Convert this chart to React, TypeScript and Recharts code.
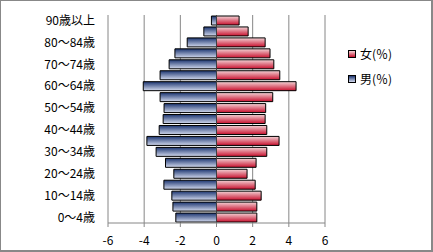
import {
  BarChart,
  Bar,
  XAxis,
  YAxis,
  CartesianGrid,
  ReferenceLine,
} from "recharts";

const ageGroups = [
  "0～4歳", "5～9歳", "10～14歳", "15～19歳", "20～24歳", "25～29歳",
  "30～34歳", "35～39歳", "40～44歳", "45～49歳", "50～54歳", "55～59歳",
  "60～64歳", "65～69歳", "70～74歳", "75～79歳", "80～84歳", "85～89歳",
  "90歳以上",
];

const male = [
  2.25, 2.41, 2.47, 2.91, 2.36, 2.82, 3.34, 3.85, 3.17, 2.95, 2.9, 3.12,
  4.05, 3.12, 2.62, 2.3, 1.62, 0.7, 0.28,
];

const female = [
  2.23, 2.23, 2.47, 2.14, 1.69, 2.19, 2.78, 3.46, 2.78, 2.69, 2.72, 3.11,
  4.4, 3.5, 3.17, 2.96, 2.69, 1.75, 1.25,
];

const xTicks = [-6, -4, -2, 0, 2, 4, 6];

const data = ageGroups.map((age, i) => ({
  age,
  male: -male[i],
  female: female[i],
}));

const font = "'Noto Sans CJK JP', 'Noto Sans', sans-serif";

function LegendBox() {
  const items = [
    { label: "女(％)", from: "#f3d3d6", to: "#c8102e" },
    { label: "男(％)", from: "#1c3570", to: "#d3daee" },
  ];
  return (
    <div
      style={{
        position: "absolute",
        left: 347,
        top: 40,
        fontFamily: font,
        fontSize: 12,
        color: "#000",
      }}
    >
      {items.map((it) => (
        <div
          key={it.label}
          style={{ display: "flex", alignItems: "center", height: 25 }}
        >
          <span
            style={{
              width: 6,
              height: 6,
              marginRight: 4,
              border: "1px solid #000",
              background: `linear-gradient(${it.from}, ${it.to})`,
            }}
          />
          {it.label}
        </div>
      ))}
    </div>
  );
}

export default function App() {
  return (
    <div
      style={{
        position: "fixed",
        left: 0,
        top: 0,
        width: 433,
        height: 252,
        boxSizing: "border-box",
        borderTop: "1px solid #888",
        borderLeft: "1px solid #888",
        borderRight: "2px solid #888",
        borderBottom: "2px solid #888",
        background: "#fff",
      }}
    >
      <BarChart
        width={430}
        height={249}
        data={data}
        layout="vertical"
        stackOffset="sign"
        barCategoryGap={1}
        margin={{ top: 14, right: 106, bottom: 0, left: 0 }}
      >
        <defs>
          <linearGradient id="mGrad" x1="0" y1="0" x2="0" y2="1">
            <stop offset="0%" stopColor="#1c3570" />
            <stop offset="100%" stopColor="#d3daee" />
          </linearGradient>
          <linearGradient id="fGrad" x1="0" y1="0" x2="0" y2="1">
            <stop offset="0%" stopColor="#f3d3d6" />
            <stop offset="100%" stopColor="#c8102e" />
          </linearGradient>
        </defs>
        <CartesianGrid horizontal={false} stroke="#868686" />
        <XAxis
          type="number"
          domain={[-6, 6]}
          ticks={xTicks}
          interval={0}
          height={27}
          stroke="#868686"
          tickSize={4}
          tickMargin={9}
          tick={{ fill: "#000", fontSize: 12, fontFamily: font }}
        />
        <YAxis
          type="category"
          dataKey="age"
          reversed
          interval={1}
          width={107}
          axisLine={false}
          tickLine={false}
          tickSize={0}
          tickMargin={13}
          tick={{ fill: "#000", fontSize: 12, fontFamily: font }}
        />
        <Bar
          dataKey="female"
          stackId="a"
          fill="url(#fGrad)"
          stroke="#000"
          strokeWidth={1}
          isAnimationActive={false}
        />
        <Bar
          dataKey="male"
          stackId="a"
          fill="url(#mGrad)"
          stroke="#000"
          strokeWidth={1}
          isAnimationActive={false}
        />
        <ReferenceLine x={0} stroke="#404040" />
      </BarChart>
      <LegendBox />
    </div>
  );
}
